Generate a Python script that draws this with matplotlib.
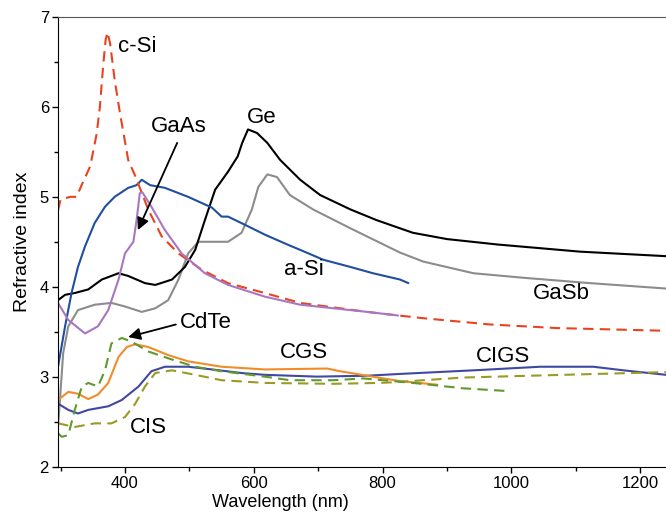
import matplotlib
matplotlib.use("Agg")
import matplotlib.pyplot as plt
from matplotlib.ticker import MultipleLocator

plt.rcParams["font.family"] = ["Liberation Sans", "DejaVu Sans"]

# refractive index vs wavelength (nm)
csi_wl = [296, 300, 315, 325, 332, 346, 356, 361, 366, 370, 373, 377, 384, 392, 405,
          416, 436, 457, 483, 519, 560, 617, 672, 776, 812, 863, 967, 1071, 1240]
csi_n = [4.85, 4.97, 5.0, 5.0, 5.12, 5.34, 5.70, 6.0, 6.45, 6.75, 6.83, 6.70, 6.30, 5.94, 5.41,
         5.23, 4.86, 4.56, 4.37, 4.19, 4.04, 3.93, 3.82, 3.72, 3.69, 3.65, 3.58, 3.54, 3.51]

gaas_wl = [296, 312, 338, 358, 374, 390, 400, 413, 418, 423, 427, 441, 462, 488, 524,
           560, 617, 672, 776, 824]
gaas_n = [3.82, 3.63, 3.48, 3.56, 3.74, 4.08, 4.37, 4.50, 4.74, 5.04, 5.05, 4.89, 4.63, 4.37, 4.15,
          4.02, 3.89, 3.80, 3.72, 3.68]

asi_wl = [296, 307, 317, 327, 338, 353, 369, 384, 405, 418, 426, 439, 462, 498, 535,
          550, 560, 586, 617, 652, 672, 708, 750, 785, 827, 840]
asi_n = [3.11, 3.56, 3.93, 4.22, 4.45, 4.71, 4.89, 5.0, 5.10, 5.13, 5.19, 5.13, 5.10, 5.0, 4.88,
         4.78, 4.78, 4.69, 4.58, 4.47, 4.41, 4.30, 4.22, 4.15, 4.08, 4.04]

ge_wl = [296, 307, 322, 343, 364, 390, 405, 431, 447, 473, 493, 509, 524, 540, 560,
         575, 582, 591, 605, 621, 641, 672, 703, 750, 791, 847, 900, 978, 1107, 1240]
ge_n = [3.85, 3.91, 3.93, 3.97, 4.08, 4.15, 4.12, 4.04, 4.02, 4.08, 4.22, 4.41, 4.74, 5.08, 5.28,
        5.45, 5.60, 5.75, 5.71, 5.60, 5.41, 5.19, 5.02, 4.86, 4.74, 4.60, 4.53, 4.47, 4.39, 4.34]

gasb_wl = [296, 299, 304, 312, 327, 353, 379, 400, 426, 447, 467, 483, 498, 514, 540,
           560, 581, 597, 607, 621, 636, 656, 692, 750, 827, 863, 941, 1018, 1122, 1240]
gasb_n = [2.45, 2.74, 3.26, 3.56, 3.74, 3.80, 3.82, 3.78, 3.72, 3.76, 3.85, 4.08, 4.37, 4.50, 4.50,
          4.50, 4.60, 4.86, 5.11, 5.25, 5.22, 5.02, 4.86, 4.65, 4.38, 4.28, 4.15, 4.10, 4.04, 3.98]

cdte_wl = [296, 302, 312, 322, 333, 343, 358, 369, 379, 395, 410, 436, 473, 509, 550,
           617, 656, 723, 770, 847, 925, 993]
cdte_n = [2.37, 2.33, 2.35, 2.63, 2.89, 2.93, 2.89, 3.07, 3.37, 3.43, 3.39, 3.28, 3.19, 3.11, 3.06,
          3.0, 2.96, 2.96, 2.98, 2.93, 2.87, 2.84]

cis_wl = [296, 322, 353, 379, 400, 416, 431, 447, 473, 509, 550, 617, 723, 796, 823,
          925, 1029, 1133, 1240]
cis_n = [2.48, 2.44, 2.48, 2.48, 2.55, 2.70, 2.89, 3.04, 3.07, 3.02, 2.96, 2.93, 2.92, 2.93, 2.94,
         2.99, 3.01, 3.03, 3.05]

cgs_wl = [296, 312, 327, 343, 358, 374, 390, 403, 416, 436, 467, 498, 550, 617, 714,
          734, 776, 827, 885]
cgs_n = [2.74, 2.83, 2.81, 2.75, 2.80, 2.93, 3.22, 3.33, 3.36, 3.33, 3.24, 3.17, 3.11, 3.08, 3.09,
         3.06, 3.01, 2.95, 2.91]

cigs_wl = [296, 312, 327, 343, 374, 395, 421, 441, 462, 498, 535, 581, 617, 698, 776,
           827, 941, 1045, 1127, 1174, 1240]
cigs_n = [2.70, 2.63, 2.59, 2.63, 2.67, 2.74, 2.89, 3.06, 3.11, 3.11, 3.08, 3.04, 3.02, 3.0, 3.01,
          3.03, 3.07, 3.11, 3.11, 3.07, 3.02]

fig = plt.figure(figsize=(6.66, 5.23), dpi=100)
ax = fig.add_axes([0.0871, 0.108, 0.9129, 0.8594])

lw = 1.5
solid = dict(lw=lw, solid_joinstyle="round", solid_capstyle="round")
dashed = dict(lw=lw, ls=(0, (5, 3)), dash_joinstyle="round")
ax.plot(gasb_wl, gasb_n, color="#8c8c8c", **solid)
ax.plot(ge_wl, ge_n, color="black", **solid)
ax.plot(asi_wl, asi_n, color="#1f4f9e", **solid)
ax.plot(cigs_wl, cigs_n, color="#3f49a0", **solid)
ax.plot(cgs_wl, cgs_n, color="#f28c28", **solid)
ax.plot(cis_wl, cis_n, color="#9a9a24", **dashed)
ax.plot(cdte_wl, cdte_n, color="#5f9a2e", **dashed)
ax.plot(csi_wl, csi_n, color="#e8431f", **dashed)
ax.plot(gaas_wl, gaas_n, color="#a877c0", **solid)

fs = 16
ax.text(419, 6.67, "c-Si", fontsize=fs, ha="center", va="center")
ax.text(613, 5.88, "Ge", fontsize=fs, ha="center", va="center")
ax.text(678, 4.19, "a-Si", fontsize=fs, ha="center", va="center")
ax.text(1077, 3.92, "GaSb", fontsize=fs, ha="center", va="center")
ax.text(678, 3.27, "CGS", fontsize=fs, ha="center", va="center")
ax.text(987, 3.22, "CIGS", fontsize=fs, ha="center", va="center")
ax.text(436, 2.43, "CIS", fontsize=fs, ha="center", va="center")

arrow = dict(arrowstyle="-|>", color="black", lw=1.3, mutation_scale=18,
             shrinkA=0, shrinkB=0)
ax.text(484, 5.78, "GaAs", fontsize=fs, ha="center", va="center")
ax.annotate("", xy=(420, 4.63), xytext=(481, 5.60), arrowprops=arrow)
ax.text(526, 3.60, "CdTe", fontsize=fs, ha="center", va="center")
ax.annotate("", xy=(405, 3.44), xytext=(479, 3.58), arrowprops=arrow)

ax.set_xlim(296, 1240)
ax.set_ylim(2, 7)
ax.xaxis.set_major_locator(MultipleLocator(200))
ax.xaxis.set_minor_locator(MultipleLocator(100))
ax.yaxis.set_major_locator(MultipleLocator(1))
ax.yaxis.set_minor_locator(MultipleLocator(0.5))
ax.tick_params(which="major", direction="out", length=4.5, width=1, pad=2, labelsize=12)
ax.tick_params(which="minor", direction="out", length=3, width=1)
ax.spines["right"].set_visible(False)
ax.spines["top"].set_color("#555555")

ax.set_xlabel("Wavelength (nm)", fontsize=13)
ax.xaxis.set_label_coords(0.365, -0.062)
ax.set_ylabel("Refractive index", fontsize=14, labelpad=6)

fig.savefig("out.png", dpi=100)
